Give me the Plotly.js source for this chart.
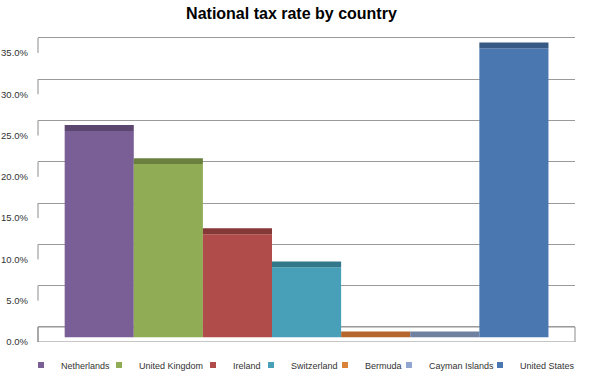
<!DOCTYPE html>
<html><head><meta charset="utf-8">
<script src="https://cdn.plot.ly/plotly-3.0.1.min.js"></script>
<style>html,body{margin:0;padding:0;background:#fff}#chart{width:590px;height:371px}</style>
</head><body><div id="chart"></div>
<script>
const countries = ["Netherlands","United Kingdom","Ireland","Switzerland","Bermuda","Cayman Islands","United States"];
const taxRates = [0.25, 0.21, 0.125, 0.085, 0.0, 0.0, 0.35];
const frontColors = ["#7a5f97","#90ac54","#b04c49","#47a0b8","#db8239","#90a5cf","#4a77af"];
const topColors = ["#5b4770","#6b803f","#843937","#33788a","#b4662d","#6f80a1","#375a84"];
const tickVals = [0,0.05,0.10,0.15,0.20,0.25,0.30,0.35];
// left edge (px) of each legend entry box, matched to the reference
const legendLeftPx = [21, 99, 193, 251, 325, 389, 480];

// 3D look parameters (in axis units)
const depth = 0.0182;     // back-wall offset
const barBase = 0.0056;   // bar front-face bottom above floor front edge
const topFace = 0.0070;   // thickness of visible top face

const plotL = 38, plotW = 537;
const traces = [];
traces.push({type:'scatter', x:[null], y:[null], yaxis:'y2', showlegend:false, hoverinfo:'skip'});
countries.forEach((c,i)=>{
  traces.push({type:'bar', x:[c], y:[taxRates[i]], base:[barBase], width:[1],
    marker:{color:frontColors[i], line:{width:0}}, showlegend:false, hoverinfo:'skip'});
  traces.push({type:'bar', x:[c], y:[topFace], base:[barBase+taxRates[i]], width:[1],
    marker:{color:topColors[i], line:{width:0}}, showlegend:false, hoverinfo:'skip'});
});
countries.forEach((c,i)=>{
  traces.push({type:'scatter', mode:'markers', x:[null], y:[null], name:c,
    legend: i===0 ? 'legend' : 'legend'+(i+1),
    marker:{symbol:'square', size:6, color:frontColors[i]}});
});

const shapes = [];
tickVals.forEach(v=>{
  shapes.push({type:'line', xref:'paper', yref:'y', x0:0, x1:0, y0:v, y1:v+depth,
    line:{color:'#8c8c8c', width:1}, layer:'below'});
});
shapes.push({type:'rect', xref:'paper', yref:'y', x0:0, x1:1, y0:0, y1:depth,
  line:{color:'#8c8c8c', width:1}, fillcolor:'rgba(0,0,0,0)', layer:'below'});

const R = 0.3705;
const layout = {
  width:590, height:371,
  margin:{l:plotL, r:590-plotL-plotW, t:36, b:29, autoexpand:false},
  paper_bgcolor:'#fff', plot_bgcolor:'rgba(0,0,0,0)',
  font:{family:'Liberation Sans, Arial, sans-serif', size:9.5, color:'#333'},
  title:{text:'<b>National tax rate by country</b>', x:0.494, xanchor:'center', y:0.965, yanchor:'middle',
    font:{family:'Liberation Sans, Arial, sans-serif', size:16, color:'#000'}},
  barmode:'overlay',
  xaxis:{type:'category', categoryorder:'array', categoryarray:countries,
    range:[-0.886, 6.884], showgrid:false, showticklabels:false, zeroline:false, showline:false, ticks:''},
  yaxis:{range:[0,R], tickvals:tickVals, tickformat:'.1%', showgrid:false, zeroline:false,
    showline:false, ticks:'', ticklabelstandoff:9, tickfont:{size:9.5, color:'#333'}},
  yaxis2:{overlaying:'y', range:[-depth, R-depth], tickvals:tickVals, showgrid:true,
    gridcolor:'#9a9a9a', gridwidth:1, showticklabels:false, zeroline:false, showline:false, ticks:''},
  showlegend:true,
  shapes:shapes
};
const legendY = (342-365)/306;
countries.forEach((c,i)=>{
  const key = i===0 ? 'legend' : 'legend'+(i+1);
  layout[key] = {orientation:'h', x:(legendLeftPx[i]-plotL)/plotW, xanchor:'left', y:legendY, yanchor:'middle',
    font:{size:9, color:'#333'}, itemwidth:30, bgcolor:'rgba(0,0,0,0)'};
});
Plotly.newPlot('chart', traces, layout, {staticPlot:true});
</script></body></html>
